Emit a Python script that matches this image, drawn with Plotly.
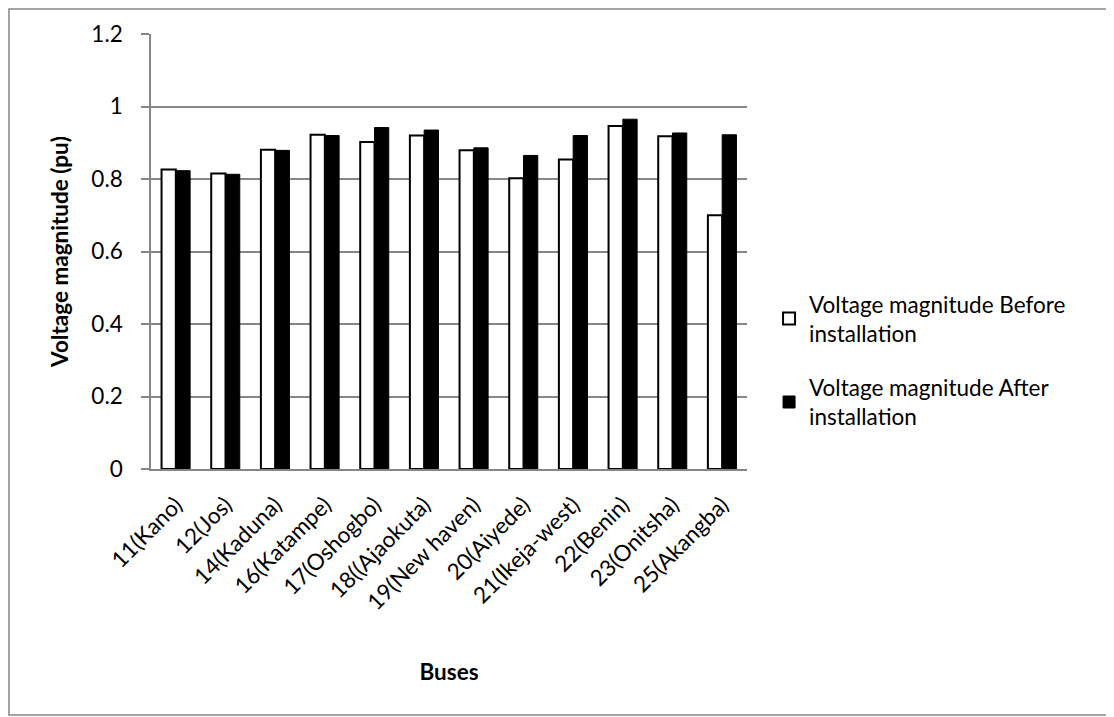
import plotly.graph_objects as go

buses = ["11(Kano)", "12(Jos)", "14(Kaduna)", "16(Katampe)", "17(Oshogbo)", "18((Ajaokuta)",
         "19(New haven)", "20(Aiyede)", "21(Ikeja-west)", "22(Benin)", "23(Onitsha)", "25(Akangba)"]
before = [0.826, 0.815, 0.881, 0.922, 0.902, 0.920, 0.879, 0.802, 0.854, 0.946, 0.918, 0.700]
after = [0.823, 0.813, 0.879, 0.920, 0.942, 0.935, 0.886, 0.865, 0.920, 0.965, 0.927, 0.922]
y_ticks = [0, 0.2, 0.4, 0.6, 0.8, 1, 1.2]
y_tick_labels = ["0", "0.2", "0.4", "0.6", "0.8", "1", "1.2"]

FONT = "Lato, 'Open Sans', sans-serif"
GRID = "#868686"
FS = 22.5

fig = go.Figure()
fig.add_trace(go.Bar(x=buses, y=before, name="Voltage magnitude Before<br>installation",
                     legendgroup="a",
                     marker=dict(color="white", line=dict(color="black", width=2))))
fig.add_trace(go.Bar(x=buses, y=after, name="Voltage magnitude After<br>installation",
                     legendgroup="b",
                     marker=dict(color="black", line=dict(color="black", width=1))))

# page is offset by 8px (body margin), so the figure is 8px smaller and margins shifted
fig.update_layout(
    width=1106, height=709,
    margin=dict(l=143, r=367, t=26, b=248),
    paper_bgcolor="white", plot_bgcolor="white",
    font=dict(family=FONT, size=FS, color="black"),
    barmode="group", bargap=0.425, bargroupgap=0,
    showlegend=True,
    legend=dict(x=1.037, xanchor="left", y=0.25, yanchor="middle",
                font=dict(size=FS), tracegroupgap=22, itemwidth=30,
                bgcolor="rgba(0,0,0,0)"),
    xaxis=dict(
        title=dict(text="<b>Buses</b>", font=dict(size=FS), standoff=50),
        tickangle=-45, showgrid=False, showline=True, linecolor=GRID,
        linewidth=1.5, ticks="", tickfont=dict(size=FS), ticklabelstandoff=12,
    ),
    yaxis=dict(
        title=dict(text="<b>Voltage magnitude (pu)</b>", font=dict(size=FS), standoff=16),
        range=[0, 1.2], tickvals=y_ticks, ticktext=y_tick_labels,
        showgrid=True, gridcolor=GRID, gridwidth=1.5,
        showline=True, linecolor=GRID, linewidth=1.5,
        ticks="outside", ticklen=8, tickcolor=GRID, tickwidth=1.5,
        zeroline=False, tickfont=dict(size=FS), ticklabelstandoff=14,
    ),
    shapes=[dict(type="rect", xref="paper", yref="paper",
                 x0=-0.2383, x1=1.6107, y0=-0.5655, y1=1.0575,
                 line=dict(color=GRID, width=1.5), fillcolor="rgba(0,0,0,0)",
                 layer="below")],
)

fig.write_html("out.html")
